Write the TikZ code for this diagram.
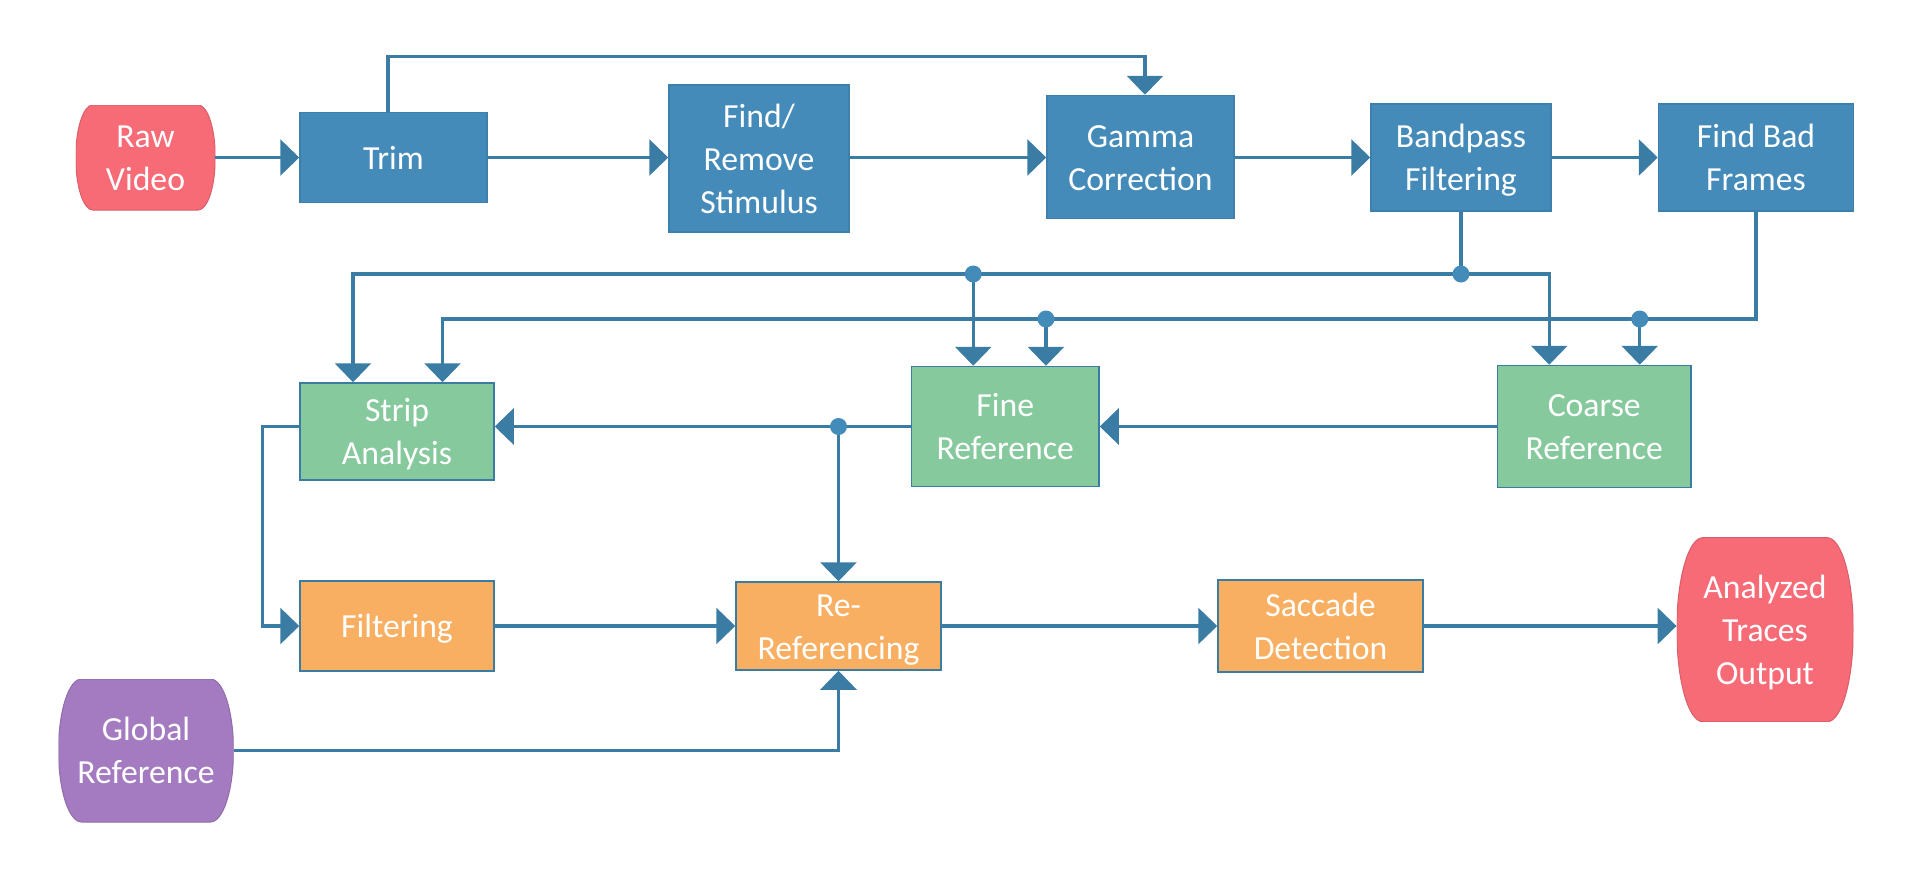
\documentclass[tikz,border=0pt]{standalone}
\usepackage{fontspec}
\setmainfont{Carlito}
\usetikzlibrary{arrows.meta,calc}
\definecolor{cblue}{HTML}{448BB9}
\definecolor{cblueb}{HTML}{3D80AC}
\definecolor{cline}{HTML}{3B7CA5}
\definecolor{cdot}{HTML}{438BB8}
\definecolor{cred}{HTML}{F76B77}
\definecolor{cgreen}{HTML}{85C99D}
\definecolor{corange}{HTML}{F9AF62}
\definecolor{cpurple}{HTML}{A47BC0}
\newcommand\Fst{\rule{0pt}{23pt}}
\newcommand\Ln[1]{\smash{#1}}
\begin{document}
\begin{tikzpicture}[x=1pt,y=-1pt,font=\fontsize{33.7}{43}\selectfont,
  blk/.style={rectangle,fill=cblue,draw=cblueb,line width=1.5pt,text=white,align=center,inner sep=0pt},
  grn/.style={blk,fill=cgreen,draw=cline},
  org/.style={blk,fill=corange,draw=cline},
  term/.style 2 args={rectangle,inner sep=0pt,text=white,align=center,
    path picture={\filldraw[fill=#1,draw=#1!88!black,line width=1pt]
      let \p1=(path picture bounding box.north east),
          \p2=(path picture bounding box.south west),
          \n1={(\y1-\y2)/2} in
      (\x1-#2pt,\y1) arc[start angle=90,end angle=-90,x radius=#2pt,y radius=\n1]
      -- (\x2+#2pt,\y2) arc[start angle=270,end angle=90,x radius=#2pt,y radius=\n1] -- cycle;}},
  conn/.style={draw=cline,line width=3.2pt,-{Triangle[length=19pt,width=36pt]}},
  plain/.style={draw=cline,line width=3.2pt},
  jdot/.style={circle,fill=cdot,inner sep=0pt,minimum size=17pt}]
\useasboundingbox (0,0) rectangle (1928,892);

% top row
\node[term={cred}{17},minimum width=139.5pt,minimum height=105pt] (raw) at (145.5,157.5) {\Fst\Ln{Raw}\\\Ln{Video}};
\node[blk,minimum width=187pt,minimum height=90pt] (trim) at (393.5,157.5) {\Fst\Ln{Trim}};
\node[blk,minimum width=180pt,minimum height=147pt] (find) at (759,158.5) {\Fst\Ln{Find/}\\\Ln{Remove}\\\Ln{Stimulus}};
\node[blk,minimum width=187pt,minimum height=123pt] (gamma) at (1140.5,157) {\Fst\Ln{Gamma}\\\Ln{Correction}};
\node[blk,minimum width=180pt,minimum height=107pt] (band) at (1461,157.5) {\Fst\Ln{Bandpass}\\\Ln{Filtering}};
\node[blk,minimum width=195pt,minimum height=107pt] (bad) at (1756,157.5) {\Fst\Ln{Find Bad}\\\Ln{Frames}};

% middle row
\node[grn,minimum width=194pt,minimum height=97pt] (strip) at (397,431.5) {\Fst\Ln{Strip}\\\Ln{Analysis}};
\node[grn,minimum width=187.5pt,minimum height=120pt] (fine) at (1005.25,426.5) {\Fst\Ln{Fine}\\\Ln{Reference}};
\node[grn,minimum width=193.5pt,minimum height=122pt] (coarse) at (1594.25,426.5) {\Fst\Ln{Coarse}\\\Ln{Reference}};

% bottom row
\node[org,minimum width=194pt,minimum height=90pt] (filt) at (397,626) {\Fst\Ln{Filtering}};
\node[org,minimum width=205pt,minimum height=88pt] (reref) at (838.5,626) {\Fst\Ln{Re-}\\\Ln{Referencing}};
\node[org,minimum width=205pt,minimum height=92pt] (sacc) at (1320.5,626) {\Fst\Ln{Saccade}\\\Ln{Detection}};
\node[term={cred}{26},minimum width=176.5pt,minimum height=184pt] (out) at (1765,629.7) {\Fst\Ln{Analyzed}\\\Ln{Traces}\\\Ln{Output}};
\node[term={cpurple}{23},minimum width=175pt,minimum height=143pt] (global) at (146,750.5) {\Fst\Ln{Global}\\\Ln{Reference}};

% helper levels
\coordinate (hA) at (0,274);
\coordinate (hB) at (0,319);

% top row connectors
\draw[conn] (raw.east) -- (raw.east -| trim.west);
\draw[conn] (trim.east) -- (trim.east -| find.west);
\draw[conn] (trim.east -| find.east) -- (trim.east -| gamma.west);
\draw[conn] (trim.east -| gamma.east) -- (trim.east -| band.west);
\draw[conn] (band.east) -- (bad.west);
\draw[conn] ([xshift=-5.5pt]trim.north) -- ++(0,-55.5) -| ([xshift=4.5pt]gamma.north);

% bandpass branch
\coordinate (j1) at (band.south |- hA);
\coordinate (j2) at ([xshift=-32pt]fine.north |- hA);
\draw[plain] (band.south) -- (j1);
\draw[conn] (j1) -| ([xshift=-44pt]strip.north);
\draw[conn] (j1) -| ([xshift=-45pt]coarse.north);
\draw[conn] (j2) -- ([xshift=-32pt]fine.north);

% bad frames branch
\coordinate (j3) at ([xshift=40.7pt]fine.north |- hB);
\coordinate (j4) at ([xshift=45.5pt]coarse.north |- hB);
\draw[conn] (bad.south) |- (j4) -| ([xshift=45.5pt]strip.north);
\draw[conn] (j3) -- ([xshift=40.7pt]fine.north);
\draw[conn] (j4) -- ([xshift=45.5pt]coarse.north);

% middle row connectors
\coordinate (j5) at (reref.north |- fine.west);
\draw[conn] (coarse.west) -- (coarse.west -| fine.east);
\draw[conn] (fine.west) -- (fine.west -| strip.east);
\draw[conn] (j5) -- (reref.north);
\draw[conn] (strip.west |- fine.west) -- ++(-37,0) |- (filt.west);

% bottom row connectors
\draw[conn] (filt.east) -- (reref.west);
\draw[conn] (reref.east) -- (sacc.west);
\draw[conn] (sacc.east) -- (sacc.east -| out.west);
\draw[conn] (global.east) -| (reref.south);

% junction dots
\foreach \j in {j1,j2,j3,j4,j5} \node[jdot] at (\j) {};
\end{tikzpicture}
\end{document}
